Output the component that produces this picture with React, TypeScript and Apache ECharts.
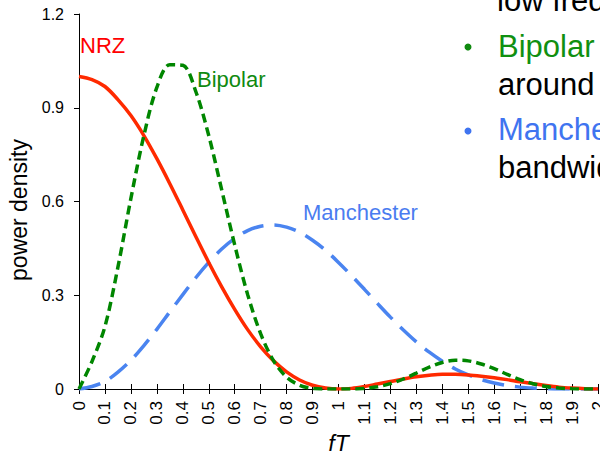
import React, { useEffect, useRef } from "react";
import * as echarts from "echarts";

const xLabels = [
  "0", "0.1", "0.2", "0.3", "0.4", "0.5", "0.6", "0.7", "0.8", "0.9", "1",
  "1.1", "1.2", "1.3", "1.4", "1.5", "1.6", "1.7", "1.8", "1.9", "2",
];
const fT = [
  0, 0.05, 0.1, 0.15, 0.2, 0.25, 0.3, 0.35, 0.4, 0.45, 0.5,
  0.55, 0.6, 0.65, 0.7, 0.75, 0.8, 0.85, 0.9, 0.95, 1,
  1.05, 1.1, 1.15, 1.2, 1.25, 1.3, 1.35, 1.4, 1.45, 1.5,
  1.55, 1.6, 1.65, 1.7, 1.75, 1.8, 1.85, 1.9, 1.95, 2,
];
const nrz = [
  1.0, 0.99, 0.968, 0.926, 0.875, 0.811, 0.737, 0.657, 0.573, 0.488, 0.405,
  0.327, 0.255, 0.19, 0.135, 0.09, 0.055, 0.029, 0.012, 0.003, 0.0,
  0.002, 0.008, 0.016, 0.024, 0.032, 0.039, 0.044, 0.047, 0.047, 0.045,
  0.041, 0.036, 0.03, 0.023, 0.017, 0.011, 0.006, 0.003, 0.001, 0.0,
];
const bipolar = [
  0.0, 0.088, 0.2, 0.39, 0.61, 0.811, 0.965, 1.038, 1.036, 0.952, 0.811,
  0.637, 0.461, 0.302, 0.177, 0.09, 0.038, 0.012, 0.002, 0.0, 0.0,
  0.0, 0.002, 0.007, 0.017, 0.032, 0.051, 0.07, 0.085, 0.092, 0.09,
  0.08, 0.065, 0.047, 0.03, 0.017, 0.008, 0.003, 0.001, 0.0, 0.0,
];
const manchester = [
  0.0, 0.008, 0.024, 0.054, 0.092, 0.139, 0.191, 0.247, 0.302, 0.356, 0.405,
  0.448, 0.482, 0.507, 0.521, 0.525, 0.518, 0.502, 0.476, 0.444, 0.405,
  0.363, 0.319, 0.274, 0.23, 0.189, 0.151, 0.118, 0.089, 0.064, 0.045,
  0.03, 0.019, 0.011, 0.006, 0.003, 0.001, 0.0, 0.0, 0.0, 0.0,
];
const yTicks = { min: 0, max: 1.2, interval: 0.3 };
const xTicks = { min: 0, max: 2, interval: 0.1 };

const FONT = "Liberation Sans, Arial, sans-serif";

const pairs = (ys: number[]) => ys.map((y, i) => [fT[i], y]);

export default function App() {
  const ref = useRef<HTMLDivElement>(null);
  useEffect(() => {
    if (!ref.current) return;
    const chart = echarts.init(ref.current, undefined, { renderer: "svg" });
    const xLabelFor = (v: number) => xLabels[Math.round(v * 10)] ?? "";
    chart.setOption({
      animation: false,
      backgroundColor: "#ffffff",
      grid: {
        left: 79,
        right: 2,
        top: 14,
        bottom: 62,
        containLabel: false,
        outerBoundsMode: "none",
      },
      xAxis: [
        {
          type: "value",
          min: xTicks.min,
          max: xTicks.max,
          interval: xTicks.interval,
          axisLine: { show: true, onZero: false, lineStyle: { color: "#000", width: 1 } },
          axisTick: { show: true, length: 5, lineStyle: { color: "#000" } },
          axisLabel: {
            rotate: 90,
            margin: 12,
            color: "#000",
            fontSize: 17,
            fontFamily: FONT,
            showMinLabel: true,
            showMaxLabel: true,
            formatter: xLabelFor,
          },
          splitLine: { show: false },
          name: "fT",
          nameLocation: "middle",
          nameGap: 38,
          nameTextStyle: { fontStyle: "italic", fontSize: 23, fontFamily: FONT, color: "#000" },
        },
        {
          type: "value",
          min: xTicks.min,
          max: xTicks.max,
          interval: xTicks.interval,
          position: "bottom",
          axisLine: { show: false },
          axisTick: { show: true, inside: true, length: 5, lineStyle: { color: "#000" } },
          axisLabel: { show: false },
          splitLine: { show: false },
        },
      ],
      yAxis: {
        type: "value",
        min: yTicks.min,
        max: yTicks.max,
        interval: yTicks.interval,
        axisLine: { show: true, lineStyle: { color: "#000", width: 1 } },
        axisTick: { show: true, length: 5, lineStyle: { color: "#000" } },
        axisLabel: {
          color: "#000",
          fontSize: 16,
          fontFamily: FONT,
          margin: 15,
          formatter: (v: number) => String(Math.round(v * 10) / 10),
        },
        splitLine: { show: false },
      },
      series: [
        {
          name: "Manchester",
          type: "line",
          data: pairs(manchester),
          smooth: 0.33,
          showSymbol: false,
          lineStyle: { color: "#4A84F0", width: 3.5, type: [22, 11] },
          z: 2,
        },
        {
          name: "NRZ",
          type: "line",
          data: pairs(nrz),
          smooth: 0.33,
          showSymbol: false,
          lineStyle: { color: "#FF2A00", width: 3.5, type: "solid" },
          z: 3,
        },
        {
          name: "Bipolar",
          type: "line",
          data: pairs(bipolar),
          smooth: 0.33,
          showSymbol: false,
          lineStyle: { color: "#008600", width: 3.5, type: [9, 5] },
          z: 4,
        },
      ],
      graphic: [
        {
          type: "text",
          x: 19,
          y: 210,
          rotation: Math.PI / 2,
          style: {
            text: "power density",
            fill: "#000",
            font: `23px ${FONT}`,
            align: "center",
            verticalAlign: "middle",
          },
        },
        { type: "text", left: 80, top: 34, style: { text: "NRZ", fill: "#FF0000", font: `22px ${FONT}` } },
        { type: "text", left: 197, top: 68, style: { text: "Bipolar", fill: "#108A10", font: `22px ${FONT}` } },
        { type: "text", left: 303, top: 201, style: { text: "Manchester", fill: "#4A7CF0", font: `22px ${FONT}` } },
        { type: "text", left: 497, top: -15, style: { text: "low frequency", fill: "#000", font: `31px ${FONT}` } },
        { type: "circle", shape: { cx: 468, cy: 47, r: 3.5 }, style: { fill: "#108A10" } },
        { type: "text", left: 498, top: 31, style: { text: "Bipolar has", fill: "#109010", font: `31px ${FONT}` } },
        { type: "text", left: 498, top: 69, style: { text: "around", fill: "#000", font: `31px ${FONT}` } },
        { type: "circle", shape: { cx: 468, cy: 131, r: 3.5 }, style: { fill: "#3F74F0" } },
        { type: "text", left: 498, top: 114, style: { text: "Manchester", fill: "#3F74F0", font: `31px ${FONT}` } },
        { type: "text", left: 498, top: 152, style: { text: "bandwidth", fill: "#000", font: `31px ${FONT}` } },
      ],
    });
    return () => chart.dispose();
  }, []);
  return (
    <div
      ref={ref}
      style={{ position: "fixed", left: 0, top: 0, width: 600, height: 451, overflow: "hidden" }}
    />
  );
}
